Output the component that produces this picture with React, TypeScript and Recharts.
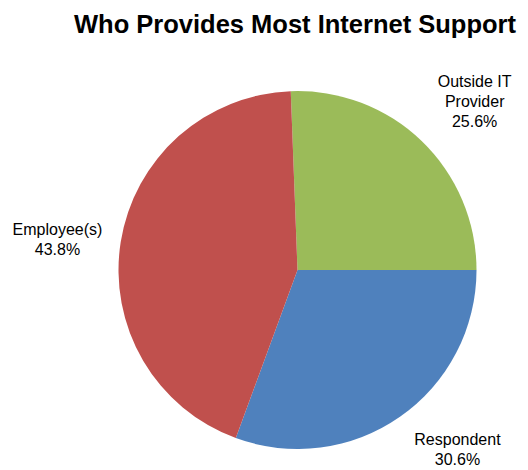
import { PieChart, Pie, Cell } from 'recharts';

const categories = ['Outside IT Provider', 'Respondent', 'Employee(s)'];
const shares = [25.6, 30.6, 43.8];
const labelLines = [['Outside IT', 'Provider'], ['Respondent'], ['Employee(s)']];
const colors = ['#9BBB59', '#4F81BD', '#C0504D'];

const data = categories.map((name, i) => ({ name, value: shares[i] }));

// Excel-style "best fit" placement, nudged per slice
const nudges = [
  { dx: 10, dy: 5 },
  { dx: 22, dy: -19 },
  { dx: -2, dy: 7 },
];

const RADIAN = Math.PI / 180;
const font = '"Liberation Sans", Arial, sans-serif';

function renderLabel(props: any) {
  const { cx, cy, midAngle, outerRadius, index } = props;
  const r = outerRadius + 62;
  const x = cx + r * Math.cos(-midAngle * RADIAN) + nudges[index].dx;
  const y = cy + r * Math.sin(-midAngle * RADIAN) + nudges[index].dy;
  const lines = [...labelLines[index], `${shares[index].toFixed(1)}%`];
  const lh = 20;
  const top = y - ((lines.length - 1) * lh) / 2;
  return (
    <text x={x} y={top} textAnchor="middle" dominantBaseline="central" fill="#000" fontSize={16} fontFamily={font}>
      {lines.map((t, i) => (
        <tspan key={i} x={x} y={top + i * lh}>{t}</tspan>
      ))}
    </text>
  );
}

export default function App() {
  const start = 92.16;
  return (
    <div style={{ position: 'absolute', left: 0, top: 0, width: 528, height: 470, background: '#fff' }}>
      <div style={{ position: 'absolute', left: 0, top: 9, width: 590, textAlign: 'center', fontFamily: font, fontWeight: 'bold', fontSize: 25.5, lineHeight: '30px', color: '#000' }}>
        Who Provides Most Internet Support
      </div>
      <PieChart
        width={528}
        height={470}
        margin={{ top: 0, right: 0, bottom: 0, left: 0 }}
        style={{ position: 'absolute', left: 0, top: 0 }}
      >
        <Pie
          data={data}
          dataKey="value"
          nameKey="name"
          cx={297.5}
          cy={270}
          outerRadius={179}
          startAngle={start}
          endAngle={start - 360}
          stroke="none"
          labelLine={false}
          label={renderLabel}
          isAnimationActive={false}
        >
          {data.map((d, i) => (
            <Cell key={d.name} fill={colors[i]} />
          ))}
        </Pie>
      </PieChart>
    </div>
  );
}
